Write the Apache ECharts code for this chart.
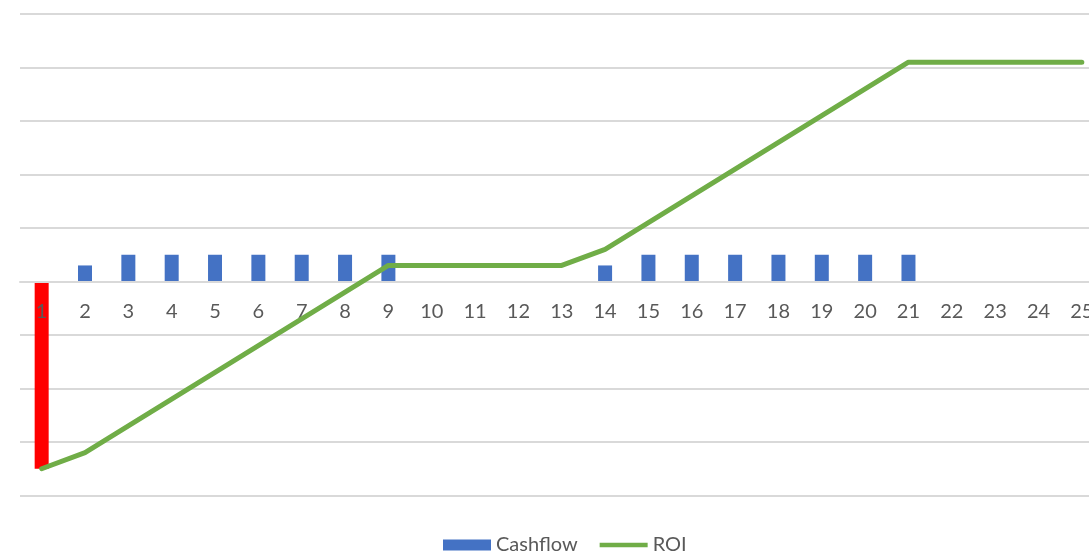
<!DOCTYPE html>
<html>
<head>
<meta charset="utf-8">
<script src="https://cdn.jsdelivr.net/npm/echarts@6/dist/echarts.min.js"></script>
<style>
  html, body { margin: 0; padding: 0; background: #ffffff; overflow: hidden; }
  /* plot runs a little past the right edge of the page */
  #chart { width: 1104px; height: 552px; }
</style>
</head>
<body>
<div id="chart"></div>
<script>
// Periods 1..25
const periods = ['1','2','3','4','5','6','7','8','9','10','11','12','13','14','15','16','17','18','19','20','21','22','23','24','25'];

// Cash flow per period (first period is the initial investment)
const cashflow = [-35000, 3000, 5000, 5000, 5000, 5000, 5000, 5000, 5000, null, null, null, null,
                  3000, 5000, 5000, 5000, 5000, 5000, 5000, 5000, null, null, null, null];

// Running return on investment
const roi = [-35000, -32000, -27000, -22000, -17000, -12000, -7000, -2000, 3000, 3000, 3000, 3000, 3000,
             6000, 11000, 16000, 21000, 26000, 31000, 36000, 41000, 41000, 41000, 41000, 41000];

// Value axis range (no labels drawn)
const yMin = -40000, yMax = 50000, yStep = 10000;

const FONT = 'Lato, "Open Sans", sans-serif';
const TEXT = '#595959';
const GRID = '#d9d9d9';

const GRID_TOP = 14, GRID_BOTTOM = 56.5;
const plotHeight = 552 - GRID_TOP - GRID_BOTTOM;
// Category axis sits on the zero line: shift it up from the plot bottom
const zeroOffset = plotHeight * (0 - yMin) / (yMax - yMin);

const chart = echarts.init(document.getElementById('chart'), null, { renderer: 'canvas' });

chart.setOption({
  animation: false,
  backgroundColor: '#ffffff',
  grid: { left: 20, right: 0.5, top: GRID_TOP, bottom: GRID_BOTTOM, containLabel: false },
  legend: {
    left: 438,
    top: 530,
    itemGap: 22,
    itemWidth: 48,
    itemHeight: 11,
    textStyle: { color: TEXT, fontFamily: FONT, fontSize: 20 },
    data: [
      { name: 'Cashflow', icon: 'rect' },
      { name: 'ROI', icon: 'path://M0,0H52V5H0Z' }
    ]
  },
  xAxis: {
    type: 'category',
    data: periods,
    boundaryGap: true,
    position: 'bottom',
    offset: -zeroOffset,
    z: 3,
    axisLine: { onZero: false, lineStyle: { color: GRID, width: 2 } },
    axisTick: { show: false },
    axisLabel: { interval: 0, margin: 20, color: TEXT, fontFamily: FONT, fontSize: 20 },
    splitLine: { show: false }
  },
  yAxis: {
    type: 'value',
    min: yMin,
    max: yMax,
    interval: yStep,
    axisLine: { show: false },
    axisTick: { show: false },
    axisLabel: { show: false },
    splitLine: { show: true, lineStyle: { color: GRID, width: 2 } }
  },
  series: [
    {
      name: 'Cashflow',
      type: 'bar',
      barWidth: 14,
      itemStyle: { color: '#4472c4' },
      data: cashflow.map(function (v) {
        return v !== null && v < 0 ? { value: v, itemStyle: { color: '#ff0000' } } : v;
      })
    },
    {
      name: 'ROI',
      type: 'line',
      symbol: 'none',
      z: 4,
      lineStyle: { color: '#70ad47', width: 5, cap: 'round', join: 'round' },
      itemStyle: { color: '#70ad47' },
      data: roi
    }
  ]
});
</script>
</body>
</html>
